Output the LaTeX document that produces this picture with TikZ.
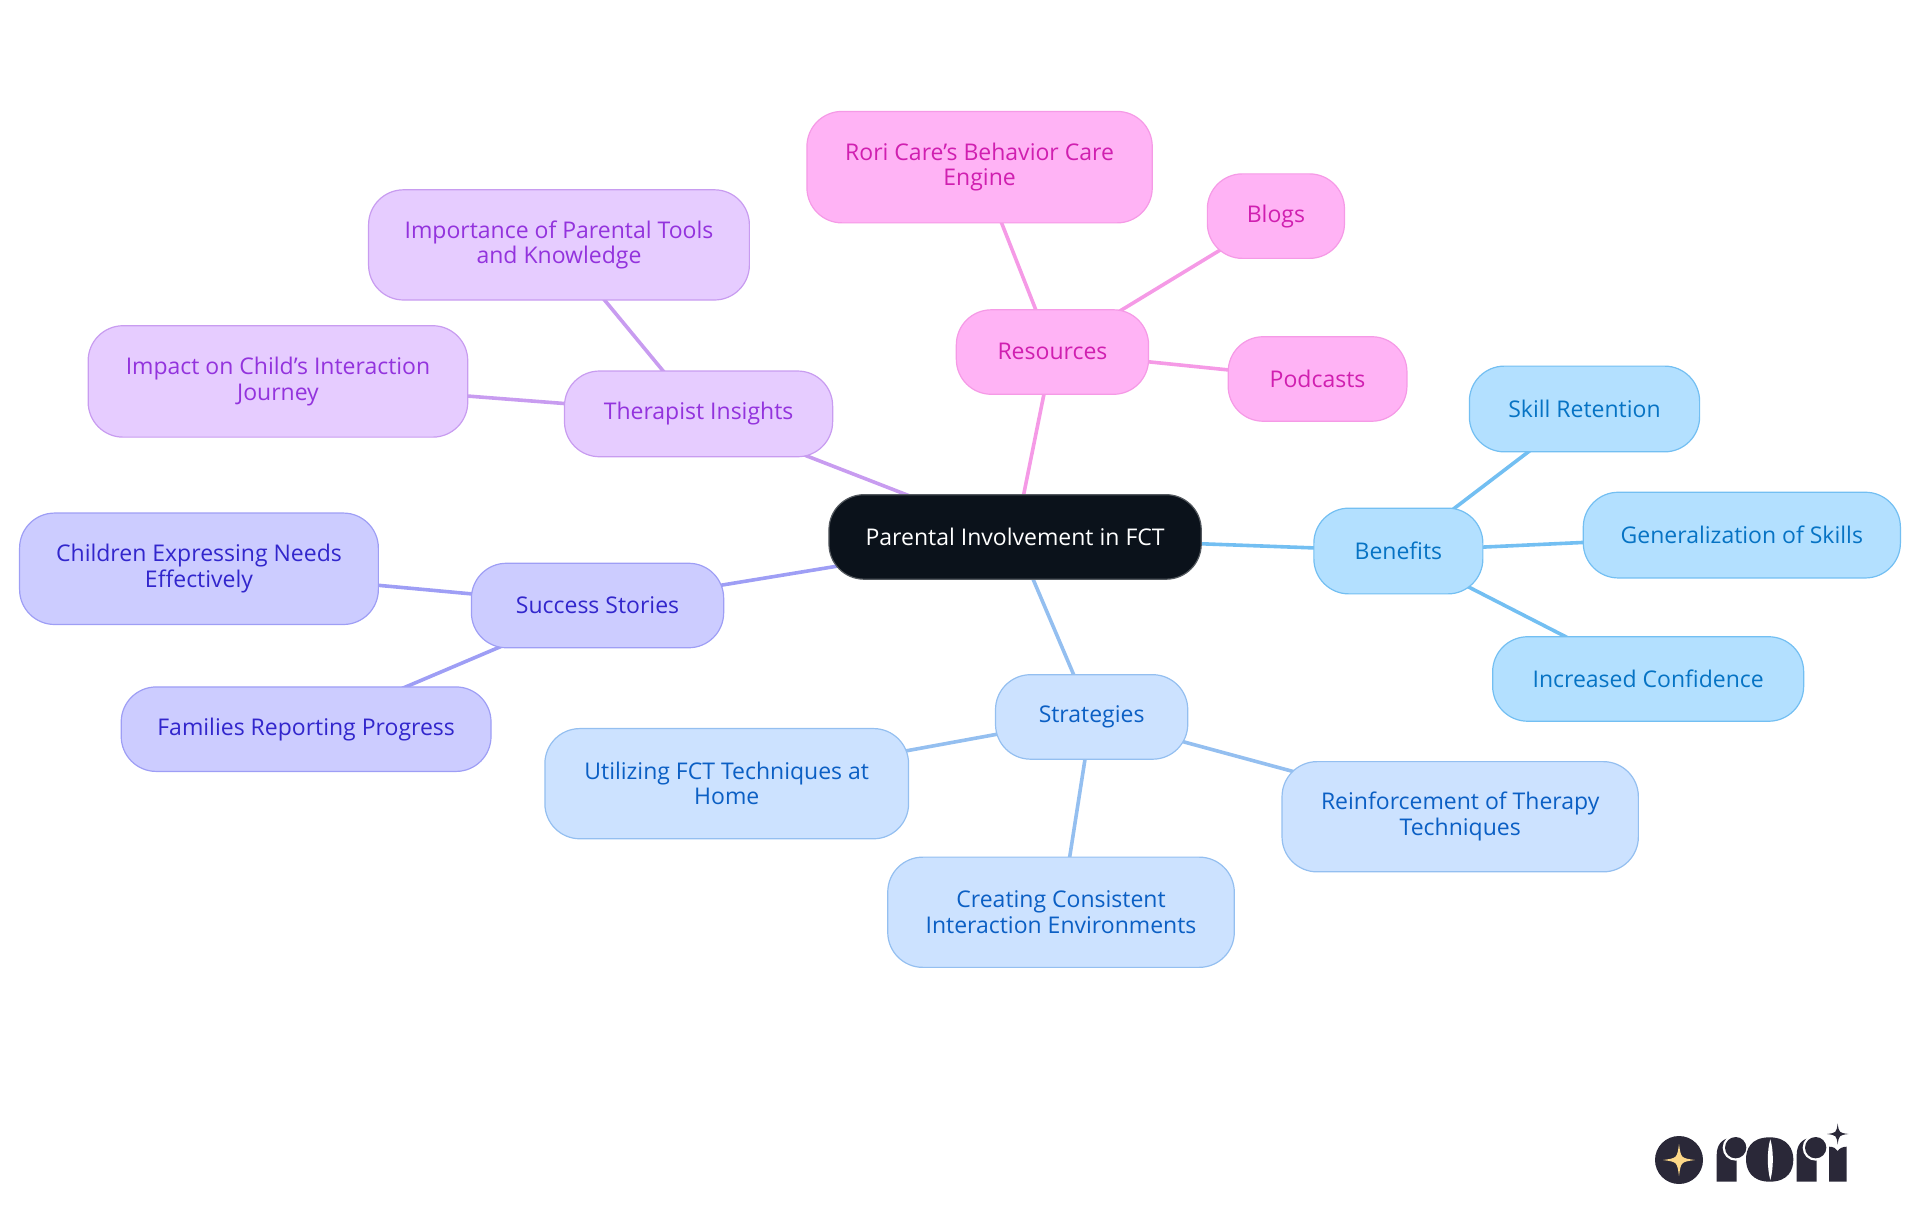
\documentclass[tikz,border=0pt]{standalone}
\usepackage{fontspec}
\setmainfont{Open Sans}
\usetikzlibrary{backgrounds}
\definecolor{cBfill}{HTML}{B3E0FF}\definecolor{cBline}{HTML}{73BFF2}\definecolor{cBtext}{HTML}{0673C4}
\definecolor{cSfill}{HTML}{CCE2FF}\definecolor{cSline}{HTML}{94BFF0}\definecolor{cStext}{HTML}{0B5FC4}
\definecolor{cGfill}{HTML}{CCCCFF}\definecolor{cGline}{HTML}{9E9EF5}\definecolor{cGtext}{HTML}{3226CC}
\definecolor{cTfill}{HTML}{E6CCFF}\definecolor{cTline}{HTML}{C89CF0}\definecolor{cTtext}{HTML}{9333DD}
\definecolor{cRfill}{HTML}{FFB3F5}\definecolor{cRline}{HTML}{F59AE6}\definecolor{cRtext}{HTML}{D01FB0}
\definecolor{cCfill}{HTML}{0B121B}\definecolor{cLogo}{HTML}{2A2838}\definecolor{cStar}{HTML}{FDD888}
\newcommand{\st}{\rule[-1pt]{0pt}{17pt}}
\tikzset{
  mm/.style={rectangle,rounded corners=35pt,inner sep=0pt,align=center,line width=1.2pt,
    font=\fontsize{23}{25.7}\selectfont},
  ben/.style={mm,fill=cBfill,draw=cBline,text=cBtext},
  str/.style={mm,fill=cSfill,draw=cSline,text=cStext},
  suc/.style={mm,fill=cGfill,draw=cGline,text=cGtext},
  the/.style={mm,fill=cTfill,draw=cTline,text=cTtext},
  res/.style={mm,fill=cRfill,draw=cRline,text=cRtext},
  cen/.style={mm,fill=cCfill,draw=cCfill!70!white,text=white},
  edge/.style={line width=3.6pt},
  logo/.style={fill=cLogo,draw=none}
}
% name, x0, y0, x1, y1, style, text (display coordinates, 1568 wide)
\newcommand{\mnode}[7]{%
  \pgfmathsetmacro{\mx}{(#2+#4)/2*1.22449}%
  \pgfmathsetmacro{\my}{-(#3+#5)/2*1.22449}%
  \pgfmathsetmacro{\mw}{(#4-#2)*1.22449}%
  \pgfmathsetmacro{\mh}{(#5-#3)*1.22449}%
  \node[#6,minimum width=\mw pt,minimum height=\mh pt] (#1) at (\mx pt,\my pt) {#7};}
% star: cx, cy, r
\newcommand{\fourstar}[4]{%
  \fill[#4] (#1,#2+#3) .. controls (#1+0.12*#3,#2+0.12*#3) .. (#1+#3,#2)
    .. controls (#1+0.12*#3,#2-0.12*#3) .. (#1,#2-#3)
    .. controls (#1-0.12*#3,#2-0.12*#3) .. (#1-#3,#2)
    .. controls (#1-0.12*#3,#2+0.12*#3) .. cycle;}
\begin{document}
\begin{tikzpicture}[x=1pt,y=1pt]
\useasboundingbox (0,0) rectangle (1920,-1215);
\mnode{center}{677}{404}{981}{473}{cen}{\st Parental Involvement in FCT}
\mnode{benefits}{1073}{415}{1211}{485}{ben}{\st Benefits}
\mnode{skill}{1200}{299}{1388}{369}{ben}{\st Skill Retention}
\mnode{general}{1293}{402}{1552}{472}{ben}{\st Generalization of Skills}
\mnode{confid}{1219}{520}{1473}{589}{ben}{\st Increased Confidence}
\mnode{strateg}{813}{551}{970}{620}{str}{\st Strategies}
\mnode{utiliz}{445}{595}{742}{685}{str}{\st Utilizing FCT Techniques at\\\st Home}
\mnode{reinf}{1047}{622}{1338}{712}{str}{\st Reinforcement of Therapy\\\st Techniques}
\mnode{creating}{725}{700}{1008}{790}{str}{\st Creating Consistent\\\st Interaction Environments}
\mnode{success}{385}{460}{591}{529}{suc}{\st Success Stories}
\mnode{children}{16}{419}{309}{510}{suc}{\st Children Expressing Needs\\\st Effectively}
\mnode{families}{99}{561}{401}{630}{suc}{\st Families Reporting Progress}
\mnode{therap}{461}{303}{680}{373}{the}{\st Therapist Insights}
\mnode{impact}{72}{266}{382}{357}{the}{\st Impact on Child's Interaction\\\st Journey}
\mnode{import}{301}{155}{612}{245}{the}{\st Importance of Parental Tools\\\st and Knowledge}
\mnode{resources}{781}{253}{938}{322}{res}{\st Resources}
\mnode{rori}{659}{91}{941}{182}{res}{\st Rori Care's Behavior Care\\\st Engine}
\mnode{blogs}{986}{142}{1098}{211}{res}{\st Blogs}
\mnode{podcasts}{1003}{275}{1149}{344}{res}{\st Podcasts}
\begin{scope}[on background layer]
\draw[edge,cBline] (center.center) -- (benefits.center);
\draw[edge,cBline] (benefits.center) -- (skill.center);
\draw[edge,cBline] (benefits.center) -- (general.center);
\draw[edge,cBline] (benefits.center) -- (confid.center);
\draw[edge,cSline] (center.center) -- (strateg.center);
\draw[edge,cSline] (strateg.center) -- (utiliz.center);
\draw[edge,cSline] (strateg.center) -- (reinf.center);
\draw[edge,cSline] (strateg.center) -- (creating.center);
\draw[edge,cGline] (center.center) -- (success.center);
\draw[edge,cGline] (success.center) -- (children.center);
\draw[edge,cGline] (success.center) -- (families.center);
\draw[edge,cTline] (center.center) -- (therap.center);
\draw[edge,cTline] (therap.center) -- (impact.center);
\draw[edge,cTline] (therap.center) -- (import.center);
\draw[edge,cRline] (center.center) -- (resources.center);
\draw[edge,cRline] (resources.center) -- (rori.center);
\draw[edge,cRline] (resources.center) -- (blogs.center);
\draw[edge,cRline] (resources.center) -- (podcasts.center);
\end{scope}
% logo: units are pixels of a 3x crop whose corner is at (1620,1100)
\begin{scope}[shift={(1620,-1100)},x=0.33333pt,y=-0.33333pt]
\fill[logo] (177,180) circle (72);
\fourstar{177}{180}{48}{cStar}
% first r
\fill[logo] (290,245) -- (290,165) .. controls (290,135) and (305,116) .. (335,112) -- (350,112) -- (350,245) -- cycle;
\fill[white] (347,143) circle (39);
\fill[logo] (347,143) circle (32);
% o
\fill[logo] (449,112) .. controls (390,112) and (378,150) .. (378,178) .. controls (378,210) and (395,245) .. (449,245)
  .. controls (505,245) and (520,210) .. (520,178) .. controls (520,150) and (505,112) .. (449,112) -- cycle;
\fill[white] (451,118) .. controls (441,150) and (441,205) .. (451,240) .. controls (461,205) and (461,150) .. (451,118) -- cycle;
% second r
\fill[logo] (530,245) -- (530,165) .. controls (530,135) and (545,116) .. (575,112) -- (590,112) -- (590,245) -- cycle;
\fill[white] (587,143) circle (39);
\fill[logo] (587,143) circle (32);
% i
\fill[logo] (627,245) -- (627,140) .. controls (640,140) and (648,145) .. (653,153)
  .. controls (658,145) and (668,140) .. (680,140) -- (680,245) -- cycle;
\fourstar{653}{102}{32}{logo}
\end{scope}
\end{tikzpicture}
\end{document}
